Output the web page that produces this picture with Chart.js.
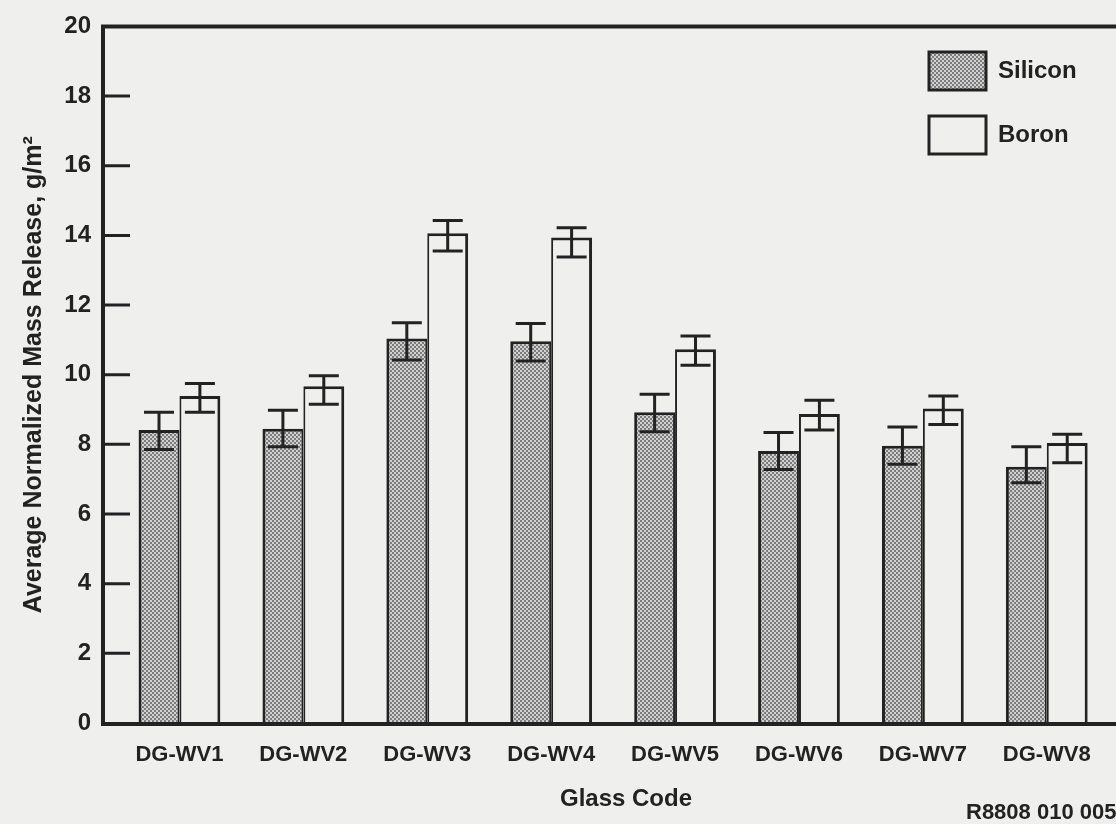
<!DOCTYPE html>
<html>
<head>
<meta charset="utf-8">
<script src="https://cdn.jsdelivr.net/npm/chart.js@4/dist/chart.umd.min.js"></script>
<style>
  html, body { margin: 0; padding: 0; background: #eff0ee; overflow: hidden; }
  #wrap { position: relative; width: 1160px; height: 824px; }
  #chart { display: block; width: 1160px; height: 824px; }
</style>
</head>
<body>
<div id="wrap"><canvas id="chart" width="1160" height="824"></canvas></div>
<script>
// Glass compositions on the horizontal axis
const glassCodes = ['DG-WV1', 'DG-WV2', 'DG-WV3', 'DG-WV4', 'DG-WV5', 'DG-WV6', 'DG-WV7', 'DG-WV8'];

// Average normalized mass release (g/m2) with error-bar bounds
const siliconRelease = [8.41, 8.45, 11.04, 10.96, 8.92, 7.81, 7.96, 7.36];
const siliconLow     = [7.85, 7.93, 10.42, 10.39, 8.36, 7.28, 7.43, 6.90];
const siliconHigh    = [8.92, 8.98, 11.49, 11.47, 9.44, 8.34, 8.50, 7.93];

const boronRelease = [9.39, 9.67, 14.06, 13.94, 10.73, 8.87, 9.03, 8.04];
const boronLow     = [8.92, 9.15, 13.55, 13.38, 10.27, 8.41, 8.57, 7.47];
const boronHigh    = [9.75, 9.97, 14.43, 14.22, 11.11, 9.27, 9.39, 8.29];

// Value-axis tick labels
const yTickValues = [0, 2, 4, 6, 8, 10, 12, 14, 16, 18, 20];

const FONT = "'Liberation Sans', Arial, Helvetica, sans-serif";
const INK = '#222222';
const PAPER = '#eff0ee';

Chart.defaults.font.family = FONT;
Chart.defaults.font.weight = 'bold';
Chart.defaults.color = INK;

// Fine stippled grey fill used for the silicon bars
function stipple() {
  const c = document.createElement('canvas');
  c.width = 4; c.height = 4;
  const g = c.getContext('2d');
  g.fillStyle = '#d0d0d0';
  g.fillRect(0, 0, 4, 4);
  g.fillStyle = '#7c7c7c';
  g.fillRect(0, 0, 2, 2);
  g.fillRect(2, 2, 2, 2);
  return document.createElement('canvas').getContext('2d').createPattern(c, 'repeat');
}
const siliconFill = stipple();

const lowBounds = [siliconLow, boronLow];
const highBounds = [siliconHigh, boronHigh];

// Axis frame with inward tick marks
const framePlugin = {
  id: 'frame',
  afterDatasetsDraw(chart) {
    const { ctx, chartArea: a, scales: { y } } = chart;
    ctx.save();
    ctx.strokeStyle = INK;
    ctx.lineCap = 'butt';
    ctx.lineWidth = 4;
    ctx.beginPath();
    ctx.moveTo(a.left - 2, a.top); ctx.lineTo(chart.width, a.top);
    ctx.moveTo(a.left, a.top - 2); ctx.lineTo(a.left, a.bottom + 3);
    ctx.moveTo(a.left - 2, a.bottom + 1); ctx.lineTo(chart.width, a.bottom + 1);
    ctx.stroke();
    ctx.lineWidth = 3;
    ctx.beginPath();
    yTickValues.slice(1, -1).forEach(v => {
      const py = y.getPixelForValue(v);
      ctx.moveTo(a.left, py); ctx.lineTo(a.left + 27, py);
    });
    ctx.stroke();
    ctx.restore();
  }
};

// Error bars with flat caps
const errorBarPlugin = {
  id: 'errorBars',
  afterDatasetsDraw(chart) {
    const { ctx, scales: { y } } = chart;
    ctx.save();
    ctx.strokeStyle = INK;
    ctx.lineWidth = 3;
    chart.data.datasets.forEach((ds, d) => {
      const meta = chart.getDatasetMeta(d);
      meta.data.forEach((bar, i) => {
        const x = bar.x;
        const yl = y.getPixelForValue(lowBounds[d][i]);
        const yh = y.getPixelForValue(highBounds[d][i]);
        ctx.beginPath();
        ctx.moveTo(x, yl); ctx.lineTo(x, yh);
        ctx.moveTo(x - 15, yl); ctx.lineTo(x + 15, yl);
        ctx.moveTo(x - 15, yh); ctx.lineTo(x + 15, yh);
        ctx.stroke();
      });
    });
    ctx.restore();
  }
};

// Boxed legend in the upper right and the figure number
const legendPlugin = {
  id: 'boxLegend',
  afterDraw(chart) {
    const { ctx } = chart;
    ctx.save();
    ctx.lineWidth = 3;
    ctx.strokeStyle = INK;
    ctx.font = 'bold 24px ' + FONT;
    ctx.fillStyle = INK;
    ctx.textBaseline = 'middle';
    ctx.textAlign = 'left';
    const rows = [{ y: 52 }, { y: 116 }];
    chart.data.datasets.forEach((ds, d) => {
      const top = rows[d].y;
      ctx.fillStyle = ds.backgroundColor;
      ctx.fillRect(929, top, 57, 38);
      ctx.strokeRect(929, top, 57, 38);
      ctx.fillStyle = INK;
      ctx.fillText(ds.label, 998, top + 19);
    });
    ctx.font = 'bold 22px ' + FONT;
    ctx.fillText('R8808 010 005', 966, 813);
    ctx.restore();
  }
};

new Chart(document.getElementById('chart'), {
  type: 'bar',
  data: {
    datasets: [
      {
        label: 'Silicon',
        data: glassCodes.map((c, i) => ({ x: i, y: siliconRelease[i] })),
        backgroundColor: siliconFill,
        borderColor: INK,
        borderWidth: { left: 3, top: 3, right: 2, bottom: 0 },
        borderSkipped: false
      },
      {
        label: 'Boron',
        data: glassCodes.map((c, i) => ({ x: i, y: boronRelease[i] })),
        backgroundColor: PAPER,
        borderColor: INK,
        borderWidth: { left: 2, top: 3, right: 3, bottom: 0 },
        borderSkipped: false
      }
    ]
  },
  options: {
    responsive: false,
    animation: false,
    devicePixelRatio: 1,
    layout: { padding: { top: 26, right: 11, bottom: 0, left: 0 } },
    datasets: { bar: { categoryPercentage: 0.66, barPercentage: 1.0 } },
    plugins: {
      legend: { display: false },
      tooltip: { enabled: false }
    },
    scales: {
      x: {
        type: 'linear',
        min: -0.617,
        max: 7.825,
        offset: false,
        afterBuildTicks: s => { s.ticks = glassCodes.map((c, i) => ({ value: i })); },
        afterFit: s => { s.height = 101; },
        ticks: {
          callback: v => glassCodes[v] ?? '',
          autoSkip: false,
          maxRotation: 0,
          padding: 19,
          font: { size: 22, weight: 'bold' },
          color: INK
        },
        grid: { display: false, drawTicks: false, offset: false },
        border: { display: false },
        title: {
          display: true,
          text: 'Glass Code',
          font: { size: 24, weight: 'bold', lineHeight: 1.2 },
          color: INK,
          padding: { top: 0, bottom: 10 }
        }
      },
      y: {
        min: 0,
        max: 20,
        afterBuildTicks: s => { s.ticks = yTickValues.map(v => ({ value: v })); },
        afterFit: s => { s.width = 103; },
        ticks: { padding: 12, font: { size: 24, weight: 'bold' }, color: INK },
        grid: { display: false, drawTicks: false },
        border: { display: false },
        title: {
          display: true,
          text: 'Average Normalized Mass Release, g/m\u00B2',
          font: { size: 25, weight: 'bold', lineHeight: 1.2 },
          color: INK,
          padding: { top: 19, bottom: 0 }
        }
      }
    }
  },
  plugins: [framePlugin, errorBarPlugin, legendPlugin]
});
</script>
</body>
</html>
